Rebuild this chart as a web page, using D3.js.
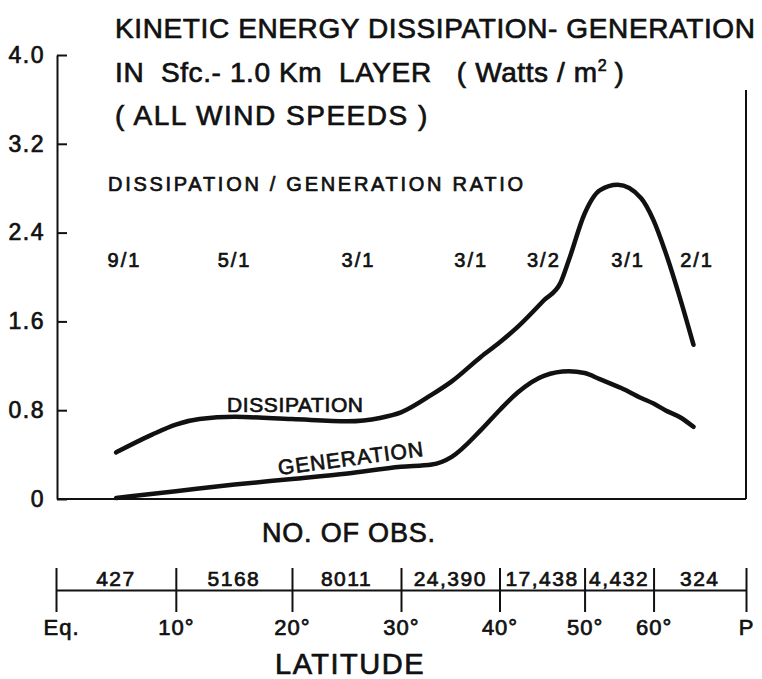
<!DOCTYPE html>
<html>
<head>
<meta charset="utf-8">
<script src="https://cdn.jsdelivr.net/npm/d3@7"></script>
<style>
  html, body { margin: 0; padding: 0; background: #fff; }
  svg { display: block; }
  text { font-family: "Liberation Sans", Arial, sans-serif; fill: #111; stroke: #111; stroke-width: 0.7px; }
</style>
</head>
<body>
<svg id="chart" width="762" height="679"></svg>
<script>
// Kinetic energy dissipation and generation by latitude (Watts/m^2)
const dissipationLat = [5, 8, 10, 12, 15, 20, 25, 28, 30, 33, 35, 38, 40, 42, 45, 47, 48, 50, 52, 54.5, 58, 60, 62, 65, 67.5];
const dissipationVal = [0.42, 0.58, 0.67, 0.72, 0.74, 0.72, 0.70, 0.73, 0.78, 0.94, 1.06, 1.28, 1.41, 1.55, 1.79, 1.95, 2.15, 2.57, 2.78, 2.83, 2.71, 2.51, 2.23, 1.77, 1.39];

const generationLat = [5, 10, 15, 20, 25, 30, 33, 35, 38, 40, 42, 45, 48, 50, 52, 55, 58, 60, 62, 65, 67.5];
const generationVal = [0.01, 0.07, 0.13, 0.18, 0.23, 0.29, 0.31, 0.38, 0.62, 0.80, 0.96, 1.11, 1.15, 1.135, 1.08, 1.00, 0.91, 0.86, 0.80, 0.73, 0.65];

// Dissipation / generation ratio per latitude band
const ratioLabels = ["9/1", "5/1", "3/1", "3/1", "3/2", "3/1", "2/1"];
const ratioLat = [5.7, 15, 26, 37, 45, 56, 68.3];

// Latitude axis (sine-of-latitude spacing) and observation counts per band
const latTicks = [0, 10, 20, 30, 40, 50, 60, 90];
const latTickLabels = ["Eq.", "10°", "20°", "30°", "40°", "50°", "60°", "P"];
const obsCounts = ["427", "5168", "8011", "24,390", "17,438", "4,432", "324"];

const yTicks = [0, 0.8, 1.6, 2.4, 3.2, 4.0];

const svg = d3.select("#chart");
const rad = d => d * Math.PI / 180;

// x runs linearly in sin(latitude); y in Watts/m^2
const xs = d3.scaleLinear().domain([0, 1]).range([56, 746]);
const xLat = lat => xs(Math.sin(rad(lat)));
const y = d3.scaleLinear().domain([0, 4]).range([499, 55]);

const ink = "#111";
const font = "Liberation Sans, Arial, sans-serif";

// ---- left value axis ----
const yAxis = d3.axisLeft(y)
  .tickValues(yTicks)
  .tickSizeInner(-10)
  .tickSizeOuter(0)
  .tickPadding(12)
  .tickFormat(d => d === 0 ? "0" : d3.format(".1f")(d));
const gy = svg.append("g").attr("transform", "translate(57,0)").call(yAxis);
gy.select(".domain").attr("stroke", ink).attr("stroke-width", 2);
gy.selectAll(".tick line").attr("stroke", ink).attr("stroke-width", 2);
gy.selectAll(".tick text").attr("font-size", 23).attr("fill", ink)
  .attr("font-family", font).attr("letter-spacing", 1.5);

// ---- frame: bottom and right edges ----
svg.append("line")
  .attr("x1", 57).attr("x2", xs(1)).attr("y1", y(0)).attr("y2", y(0))
  .attr("stroke", ink).attr("stroke-width", 2);
svg.append("line")
  .attr("x1", xs(1)).attr("x2", xs(1)).attr("y1", 90).attr("y2", y(0))
  .attr("stroke", ink).attr("stroke-width", 2);

// ---- curves ----
const line = d3.line()
  .x(d => xLat(d[0]))
  .y(d => y(d[1]))
  .curve(d3.curveMonotoneX);

svg.append("path")
  .datum(d3.zip(dissipationLat, dissipationVal))
  .attr("d", line)
  .attr("fill", "none").attr("stroke", ink)
  .attr("stroke-width", 4.5).attr("stroke-linecap", "round").attr("stroke-linejoin", "round");

svg.append("path")
  .datum(d3.zip(generationLat, generationVal))
  .attr("d", line)
  .attr("fill", "none").attr("stroke", ink)
  .attr("stroke-width", 4.5).attr("stroke-linecap", "round").attr("stroke-linejoin", "round");

// curve names
svg.append("text")
  .attr("x", 227).attr("y", 412)
  .attr("font-size", 21)
  .attr("textLength", 136).attr("lengthAdjust", "spacing")
  .text("DISSIPATION");
svg.append("text")
  .attr("transform", "translate(279,475) rotate(-7.5)")
  .attr("font-size", 21)
  .attr("textLength", 146).attr("lengthAdjust", "spacing")
  .text("GENERATION");

// ---- titles ----
svg.append("text")
  .attr("x", 115).attr("y", 38)
  .attr("font-size", 28)
  .attr("textLength", 640).attr("lengthAdjust", "spacing")
  .text("KINETIC ENERGY DISSIPATION- GENERATION");
const t2 = svg.append("text")
  .attr("x", 115).attr("y", 82)
  .attr("font-size", 28)
  .attr("xml:space", "preserve");
t2.append("tspan").attr("letter-spacing", 0.6).text("IN  Sfc.- 1.0 Km  LAYER   ( Watts / m");
t2.append("tspan").attr("font-size", 16).attr("dy", -11).text("2");
t2.append("tspan").attr("dy", 11).text(" )");
svg.append("text")
  .attr("x", 115).attr("y", 125)
  .attr("font-size", 28).attr("letter-spacing", 1.5)
  .text("( ALL WIND SPEEDS )");

svg.append("text")
  .attr("x", 108).attr("y", 191)
  .attr("font-size", 20)
  .attr("textLength", 415).attr("lengthAdjust", "spacing")
  .text("DISSIPATION / GENERATION  RATIO");

// ratio labels
svg.append("g").selectAll("text")
  .data(d3.zip(ratioLat, ratioLabels))
  .join("text")
  .attr("x", d => xLat(d[0]))
  .attr("y", 267)
  .attr("text-anchor", "middle")
  .attr("font-size", 20).attr("letter-spacing", 2)
  .text(d => d[1]);

// ---- observations / latitude axis ----
svg.append("text")
  .attr("x", 262).attr("y", 542)
  .attr("font-size", 27)
  .attr("textLength", 173).attr("lengthAdjust", "spacing")
  .text("NO. OF OBS.");

const latAxis = d3.axisBottom(xs)
  .tickValues(latTicks.map(l => Math.sin(rad(l))))
  .tickSizeInner(22)
  .tickSizeOuter(0)
  .tickPadding(23)
  .tickFormat((d, i) => latTickLabels[i]);
const gx = svg.append("g").attr("transform", "translate(0,590)").call(latAxis);
gx.select(".domain").attr("stroke", ink).attr("stroke-width", 2);
gx.selectAll(".tick line").attr("y1", -22).attr("y2", 22).attr("stroke", ink).attr("stroke-width", 2);
gx.selectAll(".tick text")
  .attr("font-size", 22).attr("fill", ink)
  .attr("font-family", font).attr("letter-spacing", 1)
  .attr("dy", 0)
  .attr("dx", (d, i) => i === 0 ? 5 : 0);

// counts centred in each latitude band
svg.append("g").selectAll("text")
  .data(obsCounts)
  .join("text")
  .attr("x", (d, i) => (xLat(latTicks[i]) + xLat(latTicks[i + 1])) / 2)
  .attr("y", 586)
  .attr("text-anchor", "middle")
  .attr("font-size", 21).attr("letter-spacing", 1.5)
  .text(d => d);

svg.append("text")
  .attr("x", 275).attr("y", 674)
  .attr("font-size", 29).attr("letter-spacing", 1.5)
  .text("LATITUDE");
</script>
</body>
</html>
